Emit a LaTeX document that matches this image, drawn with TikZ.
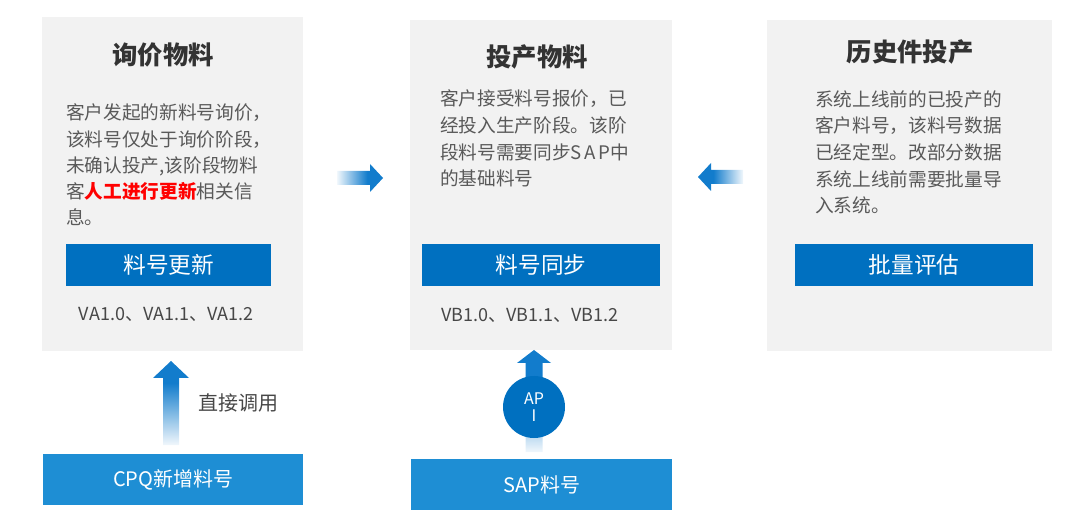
\documentclass[tikz,border=0pt]{standalone}
\usepackage{fontspec}
\setmainfont{Noto Sans CJK SC}
\usepackage{tikz}
\usetikzlibrary{positioning}
\definecolor{stagegray}{RGB}{242,242,242}
\definecolor{barblue}{RGB}{0,112,192}
\definecolor{srcblue}{RGB}{30,142,212}
\definecolor{arrowblue}{RGB}{18,124,204}
\definecolor{titlegray}{RGB}{51,51,51}
\definecolor{textgray}{RGB}{89,89,89}
\definecolor{alertred}{RGB}{255,0,0}
\colorlet{arrowpale}{arrowblue!6}
\pgfdeclarehorizontalshading{fadeR}{100bp}{color(0bp)=(arrowpale); color(25bp)=(arrowpale); color(58bp)=(arrowblue); color(100bp)=(arrowblue)}
\pgfdeclarehorizontalshading{fadeL}{100bp}{color(0bp)=(arrowblue); color(42bp)=(arrowblue); color(75bp)=(arrowpale); color(100bp)=(arrowpale)}
\pgfdeclareverticalshading{fadeU}{100bp}{color(0bp)=(arrowpale); color(25bp)=(arrowpale); color(62bp)=(arrowblue); color(100bp)=(arrowblue)}
\pgfdeclareverticalshading{fadeUapi}{100bp}{color(0bp)=(arrowpale); color(25bp)=(arrowpale); color(58bp)=(arrowblue); color(100bp)=(arrowblue)}
\tikzset{stagebox/.style={rectangle,draw=none,fill=stagegray,anchor=north west,inner sep=0pt}}
\tikzset{stagetitle/.style={font=\fontsize{19}{22}\selectfont\bfseries,text=titlegray,inner sep=0pt}}
\tikzset{stagetext/.style={font=\fontsize{14}{20}\selectfont,text=textgray,align=left,anchor=base west,inner sep=0pt}}
\tikzset{stagebar/.style={rectangle,fill=barblue,text=white,anchor=north west,inner sep=0pt,
minimum height=31.5pt,font=\fontsize{17}{20}\selectfont}}
\tikzset{stagever/.style={font=\fontsize{13.5}{16}\selectfont,text=textgray!80!black,inner sep=0pt}}
\tikzset{sourcebox/.style={rectangle,fill=srcblue,text=white,anchor=north west,inner sep=0pt,
minimum height=38.25pt,font=\fontsize{15}{18}\selectfont}}
\tikzset{apibadge/.style={circle,fill=barblue,text=white,minimum size=46.5pt,inner sep=0pt,
align=center,font=\fontsize{12}{12.75}\selectfont}}
\tikzset{calllabel/.style={font=\fontsize{15}{18}\selectfont,text=textgray!80!black,inner sep=0pt}}

\begin{document}
\begin{tikzpicture}[x=0.75pt,y=-0.75pt]
        \useasboundingbox (0,0) rectangle (1080,523);

        \node[stagebox,minimum width=195.75pt,minimum height=250.5pt] (stageA) at (42,17) {};
        \node[stagebox,minimum width=196.5pt,minimum height=247.5pt] (stageB) at (410,20) {};
        \node[stagebox,minimum width=213.75pt,minimum height=248.25pt] (stageC) at (767,20) {};

        \node[stagetitle] (stageAtitle) at (163,55) {询价物料};
        \node[stagetitle] (stageBtitle) at (537,57) {投产物料};
        \node[stagetitle] (stageCtitle) at (910,52) {历史件投产};

        % base is the last line
        \node[stagetext,font=\fontsize{14}{19.7}\selectfont] (stageAtext) at (66,225) {客户发起的新料号询价，\\
        该料号仅处于询价阶段，\\
        未确认投产,该阶段物料\\
        客{\color{alertred}\bfseries 人工进行更新}相关信\\
        息。};
        \node[stagetext] (stageBtext) at (440,186) {客户接受料号报价，已\\
        经投入生产阶段。该阶\\
        段料号需要同步S\kern2ptA\kern2ptP中\\
        的基础料号};
        \node[stagetext] (stageCtext) at (815,213) {系统上线前的已投产的\\
        客户料号，该料号数据\\
        已经定型。改部分数据\\
        系统上线前需要批量导\\
        入系统。};

        \node[stagebar,minimum width=153.75pt] (stageAbar) at (66,244) {料号更新};
        \node[stagebar,minimum width=178.5pt] (stageBbar) at (422,244) {料号同步};
        \node[stagebar,minimum width=178.5pt] (stageCbar) at (795,244) {批量评估};

        \node[stagever] (stageAver) at (166,314) {VA1.0、VA1.1、VA1.2};
        \node[stagever,anchor=west] (stageBver) at (441,315) {VB1.0、VB1.1、VB1.2};

        \node[sourcebox,minimum width=195pt] (cpq) at (43,454) {CPQ新增料号};
        \node[sourcebox,minimum width=195.75pt] (sap) at (411,459) {SAP料号};

        % arrows between the stages
        \coordinate (abTail) at (337,178);
        \coordinate (abTip) at (383,178);
        \shade[shading=fadeR] (abTail) ++(0,-7) -- ++(33,0) -- ++(0,-7) -- (abTip)
            -- ++(-13,14) -- ++(0,-7) -- ++(-33,0) -- cycle;

        \coordinate (cbTail) at (743,177);
        \coordinate (cbTip) at (698,177);
        \shade[shading=fadeL] (cbTail) ++(0,-7) -- ++(-32,0) -- ++(0,-7) -- (cbTip)
            -- ++(13,14) -- ++(0,-7) -- ++(32,0) -- cycle;

        % arrows from the sources
        \coordinate (cpqTail) at (171,445);
        \coordinate (cpqTip) at (171,361);
        \shade[shading=fadeU] (cpqTail) ++(-8,0) -- ++(0,-67) -- ++(-10,0) -- (cpqTip)
            -- ++(18,17) -- ++(-10,0) -- ++(0,67) -- cycle;
        \node[calllabel] (callLbl) at (238,403) {直接调用};

        \coordinate (sapTail) at (534,452);
        \coordinate (sapTip) at (534,350);
        \shade[shading=fadeUapi] (sapTail) ++(-8.5,0) -- ++(0,-89) -- ++(-8.5,0) -- (sapTip)
            -- ++(17,13) -- ++(-8.5,0) -- ++(0,89) -- cycle;
        \node[apibadge] (api) at (534,407) {AP\\I};

    \end{tikzpicture}
\end{document}
